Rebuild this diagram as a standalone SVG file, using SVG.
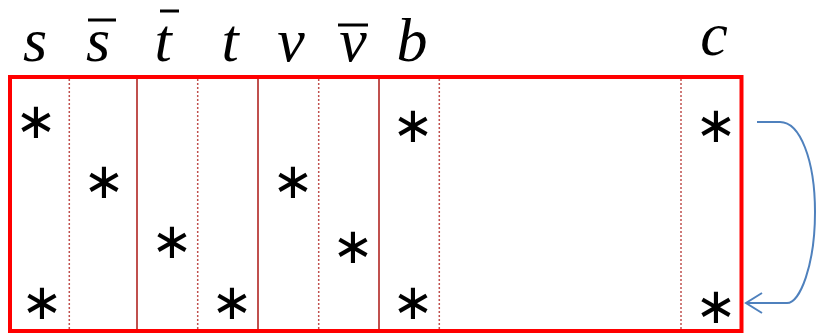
<svg xmlns="http://www.w3.org/2000/svg" width="817" height="334" viewBox="0 0 817 334">
<style>
.lbl{font-family:"Liberation Serif","Times New Roman",serif;font-style:italic;font-size:62px;fill:#000;text-anchor:middle}
.ast{font-family:"Liberation Serif","Times New Roman",serif;font-size:50px;fill:#000;text-anchor:middle}
.bar{stroke:#000;stroke-width:3}
.solid{stroke:#C0504D;stroke-width:2}
.dot{stroke:#C0504D;stroke-width:1.5;stroke-dasharray:2 2}
</style>
<rect width="817" height="334" fill="#fff"/>
<g id="grid">
<line class="dot" x1="69.3" y1="79" x2="69.3" y2="331"/>
<line class="solid" x1="137" y1="79" x2="137" y2="331"/>
<line class="dot" x1="197.7" y1="79" x2="197.7" y2="331"/>
<line class="solid" x1="258" y1="79" x2="258" y2="331"/>
<line class="dot" x1="318.7" y1="79" x2="318.7" y2="331"/>
<line class="solid" x1="379" y1="79" x2="379" y2="331"/>
<line class="dot" x1="439.3" y1="79" x2="439.3" y2="331"/>
<line class="dot" x1="681" y1="79" x2="681" y2="331"/>
<rect id="frame" x="10" y="77" width="731.5" height="254" fill="none" stroke="#FF0000" stroke-width="4"/>
</g>
<g id="labels">
<text class="lbl" x="35" y="61">s</text>
<text class="lbl" x="98" y="61">s</text>
<line class="bar" x1="88" y1="20" x2="116" y2="20"/>
<text class="lbl" x="163" y="61">t</text>
<line class="bar" x1="160" y1="11" x2="179" y2="11"/>
<text class="lbl" x="230" y="61">t</text>
<text class="lbl" x="291" y="61">v</text>
<text class="lbl" x="353" y="61">v</text>
<line class="bar" x1="338" y1="25" x2="368" y2="25"/>
<text class="lbl" x="412" y="61">b</text>
<text class="lbl" x="714" y="55">c</text>
</g>
<g id="stars">
<text class="ast" x="35.7" y="138">∗</text>
<text class="ast" x="41.7" y="319">∗</text>
<text class="ast" x="104.3" y="198">∗</text>
<text class="ast" x="171.7" y="258">∗</text>
<text class="ast" x="232.3" y="319">∗</text>
<text class="ast" x="292.7" y="198">∗</text>
<text class="ast" x="353.3" y="263">∗</text>
<text class="ast" x="413.3" y="142">∗</text>
<text class="ast" x="413.3" y="319">∗</text>
<text class="ast" x="716" y="142">∗</text>
<text class="ast" x="716" y="323">∗</text>
</g>
<g id="connectors" fill="none" stroke="#4F81BD" stroke-width="2">
<path d="M757,122 H780 C800,122 815,160 815,212 C815,265 800,303 787,303 H746"/>
<polyline points="762,293 746,303 762,313"/>
</g>
</svg>
